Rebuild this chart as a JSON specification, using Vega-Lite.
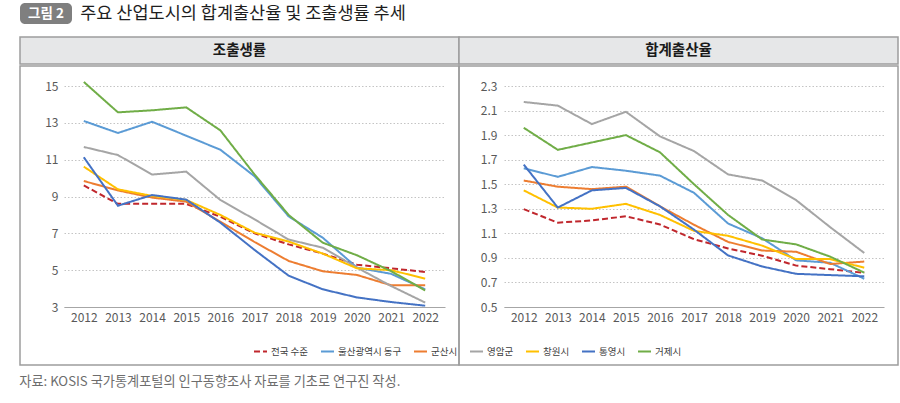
{
  "$schema": "https://vega.github.io/schema/vega-lite/v6.json",
  "padding": {"left": 19, "top": 3, "right": 2, "bottom": 4},
  "background": "white",
  "title": {"text": "자료: KOSIS 국가통계포털의 인구동향조사 자료를 기초로 연구진 작성.", "orient": "bottom", "anchor": "start", "fontSize": 13.2, "fontWeight": "normal", "color": "#6d6d6d", "font": "Noto Sans CJK KR", "offset": 10},
  "data": {"values": [
    {"panel":"조출생률","series":"전국 수준","year":2012,"value":9.6},{"panel":"조출생률","series":"전국 수준","year":2013,"value":8.6},{"panel":"조출생률","series":"전국 수준","year":2014,"value":8.6},{"panel":"조출생률","series":"전국 수준","year":2015,"value":8.6},{"panel":"조출생률","series":"전국 수준","year":2016,"value":7.9},{"panel":"조출생률","series":"전국 수준","year":2017,"value":7.0},{"panel":"조출생률","series":"전국 수준","year":2018,"value":6.4},{"panel":"조출생률","series":"전국 수준","year":2019,"value":5.9},{"panel":"조출생률","series":"전국 수준","year":2020,"value":5.3},{"panel":"조출생률","series":"전국 수준","year":2021,"value":5.1},{"panel":"조출생률","series":"전국 수준","year":2022,"value":4.9},
    {"panel":"조출생률","series":"울산광역시 동구","year":2012,"value":13.1},{"panel":"조출생률","series":"울산광역시 동구","year":2013,"value":12.45},{"panel":"조출생률","series":"울산광역시 동구","year":2014,"value":13.06},{"panel":"조출생률","series":"울산광역시 동구","year":2015,"value":12.3},{"panel":"조출생률","series":"울산광역시 동구","year":2016,"value":11.54},{"panel":"조출생률","series":"울산광역시 동구","year":2017,"value":10.1},{"panel":"조출생률","series":"울산광역시 동구","year":2018,"value":7.92},{"panel":"조출생률","series":"울산광역시 동구","year":2019,"value":6.76},{"panel":"조출생률","series":"울산광역시 동구","year":2020,"value":5.14},{"panel":"조출생률","series":"울산광역시 동구","year":2021,"value":4.8},{"panel":"조출생률","series":"울산광역시 동구","year":2022,"value":3.96},
    {"panel":"조출생률","series":"군산시","year":2012,"value":9.84},{"panel":"조출생률","series":"군산시","year":2013,"value":9.33},{"panel":"조출생률","series":"군산시","year":2014,"value":8.94},{"panel":"조출생률","series":"군산시","year":2015,"value":8.72},{"panel":"조출생률","series":"군산시","year":2016,"value":7.63},{"panel":"조출생률","series":"군산시","year":2017,"value":6.53},{"panel":"조출생률","series":"군산시","year":2018,"value":5.5},{"panel":"조출생률","series":"군산시","year":2019,"value":4.94},{"panel":"조출생률","series":"군산시","year":2020,"value":4.74},{"panel":"조출생률","series":"군산시","year":2021,"value":4.18},{"panel":"조출생률","series":"군산시","year":2022,"value":4.18},
    {"panel":"조출생률","series":"영암군","year":2012,"value":11.69},{"panel":"조출생률","series":"영암군","year":2013,"value":11.25},{"panel":"조출생률","series":"영암군","year":2014,"value":10.19},{"panel":"조출생률","series":"영암군","year":2015,"value":10.35},{"panel":"조출생률","series":"영암군","year":2016,"value":8.81},{"panel":"조출생률","series":"영암군","year":2017,"value":7.76},{"panel":"조출생률","series":"영암군","year":2018,"value":6.66},{"panel":"조출생률","series":"영암군","year":2019,"value":6.22},{"panel":"조출생률","series":"영암군","year":2020,"value":5.14},{"panel":"조출생률","series":"영암군","year":2021,"value":4.14},{"panel":"조출생률","series":"영암군","year":2022,"value":3.24},
    {"panel":"조출생률","series":"창원시","year":2012,"value":10.62},{"panel":"조출생률","series":"창원시","year":2013,"value":9.39},{"panel":"조출생률","series":"창원시","year":2014,"value":9.03},{"panel":"조출생률","series":"창원시","year":2015,"value":8.81},{"panel":"조출생률","series":"창원시","year":2016,"value":8.0},{"panel":"조출생률","series":"창원시","year":2017,"value":7.04},{"panel":"조출생률","series":"창원시","year":2018,"value":6.55},{"panel":"조출생률","series":"창원시","year":2019,"value":5.9},{"panel":"조출생률","series":"창원시","year":2020,"value":5.1},{"panel":"조출생률","series":"창원시","year":2021,"value":5.0},{"panel":"조출생률","series":"창원시","year":2022,"value":4.54},
    {"panel":"조출생률","series":"통영시","year":2012,"value":11.13},{"panel":"조출생률","series":"통영시","year":2013,"value":8.5},{"panel":"조출생률","series":"통영시","year":2014,"value":9.08},{"panel":"조출생률","series":"통영시","year":2015,"value":8.83},{"panel":"조출생률","series":"통영시","year":2016,"value":7.58},{"panel":"조출생률","series":"통영시","year":2017,"value":6.1},{"panel":"조출생률","series":"통영시","year":2018,"value":4.7},{"panel":"조출생률","series":"통영시","year":2019,"value":3.96},{"panel":"조출생률","series":"통영시","year":2020,"value":3.52},{"panel":"조출생률","series":"통영시","year":2021,"value":3.27},{"panel":"조출생률","series":"통영시","year":2022,"value":3.07},
    {"panel":"조출생률","series":"거제시","year":2012,"value":15.22},{"panel":"조출생률","series":"거제시","year":2013,"value":13.57},{"panel":"조출생률","series":"거제시","year":2014,"value":13.68},{"panel":"조출생률","series":"거제시","year":2015,"value":13.84},{"panel":"조출생률","series":"거제시","year":2016,"value":12.59},{"panel":"조출생률","series":"거제시","year":2017,"value":10.2},{"panel":"조출생률","series":"거제시","year":2018,"value":8.0},{"panel":"조출생률","series":"거제시","year":2019,"value":6.49},{"panel":"조출생률","series":"거제시","year":2020,"value":5.81},{"panel":"조출생률","series":"거제시","year":2021,"value":4.95},{"panel":"조출생률","series":"거제시","year":2022,"value":3.9},
    {"panel":"합계출산율","series":"전국 수준","year":2012,"value":1.297},{"panel":"합계출산율","series":"전국 수준","year":2013,"value":1.187},{"panel":"합계출산율","series":"전국 수준","year":2014,"value":1.205},{"panel":"합계출산율","series":"전국 수준","year":2015,"value":1.239},{"panel":"합계출산율","series":"전국 수준","year":2016,"value":1.172},{"panel":"합계출산율","series":"전국 수준","year":2017,"value":1.052},{"panel":"합계출산율","series":"전국 수준","year":2018,"value":0.977},{"panel":"합계출산율","series":"전국 수준","year":2019,"value":0.918},{"panel":"합계출산율","series":"전국 수준","year":2020,"value":0.837},{"panel":"합계출산율","series":"전국 수준","year":2021,"value":0.808},{"panel":"합계출산율","series":"전국 수준","year":2022,"value":0.778},
    {"panel":"합계출산율","series":"울산광역시 동구","year":2012,"value":1.63},{"panel":"합계출산율","series":"울산광역시 동구","year":2013,"value":1.56},{"panel":"합계출산율","series":"울산광역시 동구","year":2014,"value":1.64},{"panel":"합계출산율","series":"울산광역시 동구","year":2015,"value":1.61},{"panel":"합계출산율","series":"울산광역시 동구","year":2016,"value":1.57},{"panel":"합계출산율","series":"울산광역시 동구","year":2017,"value":1.43},{"panel":"합계출산율","series":"울산광역시 동구","year":2018,"value":1.18},{"panel":"합계출산율","series":"울산광역시 동구","year":2019,"value":1.06},{"panel":"합계출산율","series":"울산광역시 동구","year":2020,"value":0.88},{"panel":"합계출산율","series":"울산광역시 동구","year":2021,"value":0.86},{"panel":"합계출산율","series":"울산광역시 동구","year":2022,"value":0.73},
    {"panel":"합계출산율","series":"군산시","year":2012,"value":1.53},{"panel":"합계출산율","series":"군산시","year":2013,"value":1.48},{"panel":"합계출산율","series":"군산시","year":2014,"value":1.46},{"panel":"합계출산율","series":"군산시","year":2015,"value":1.48},{"panel":"합계출산율","series":"군산시","year":2016,"value":1.32},{"panel":"합계출산율","series":"군산시","year":2017,"value":1.17},{"panel":"합계출산율","series":"군산시","year":2018,"value":1.03},{"panel":"합계출산율","series":"군산시","year":2019,"value":0.96},{"panel":"합계출산율","series":"군산시","year":2020,"value":0.95},{"panel":"합계출산율","series":"군산시","year":2021,"value":0.85},{"panel":"합계출산율","series":"군산시","year":2022,"value":0.87},
    {"panel":"합계출산율","series":"영암군","year":2012,"value":2.17},{"panel":"합계출산율","series":"영암군","year":2013,"value":2.14},{"panel":"합계출산율","series":"영암군","year":2014,"value":1.99},{"panel":"합계출산율","series":"영암군","year":2015,"value":2.09},{"panel":"합계출산율","series":"영암군","year":2016,"value":1.89},{"panel":"합계출산율","series":"영암군","year":2017,"value":1.77},{"panel":"합계출산율","series":"영암군","year":2018,"value":1.58},{"panel":"합계출산율","series":"영암군","year":2019,"value":1.53},{"panel":"합계출산율","series":"영암군","year":2020,"value":1.37},{"panel":"합계출산율","series":"영암군","year":2021,"value":1.15},{"panel":"합계출산율","series":"영암군","year":2022,"value":0.94},
    {"panel":"합계출산율","series":"창원시","year":2012,"value":1.45},{"panel":"합계출산율","series":"창원시","year":2013,"value":1.31},{"panel":"합계출산율","series":"창원시","year":2014,"value":1.3},{"panel":"합계출산율","series":"창원시","year":2015,"value":1.34},{"panel":"합계출산율","series":"창원시","year":2016,"value":1.25},{"panel":"합계출산율","series":"창원시","year":2017,"value":1.12},{"panel":"합계출산율","series":"창원시","year":2018,"value":1.08},{"panel":"합계출산율","series":"창원시","year":2019,"value":1.0},{"panel":"합계출산율","series":"창원시","year":2020,"value":0.89},{"panel":"합계출산율","series":"창원시","year":2021,"value":0.89},{"panel":"합계출산율","series":"창원시","year":2022,"value":0.82},
    {"panel":"합계출산율","series":"통영시","year":2012,"value":1.66},{"panel":"합계출산율","series":"통영시","year":2013,"value":1.31},{"panel":"합계출산율","series":"통영시","year":2014,"value":1.45},{"panel":"합계출산율","series":"통영시","year":2015,"value":1.47},{"panel":"합계출산율","series":"통영시","year":2016,"value":1.32},{"panel":"합계출산율","series":"통영시","year":2017,"value":1.13},{"panel":"합계출산율","series":"통영시","year":2018,"value":0.92},{"panel":"합계출산율","series":"통영시","year":2019,"value":0.83},{"panel":"합계출산율","series":"통영시","year":2020,"value":0.77},{"panel":"합계출산율","series":"통영시","year":2021,"value":0.76},{"panel":"합계출산율","series":"통영시","year":2022,"value":0.75},
    {"panel":"합계출산율","series":"거제시","year":2012,"value":1.96},{"panel":"합계출산율","series":"거제시","year":2013,"value":1.78},{"panel":"합계출산율","series":"거제시","year":2014,"value":1.84},{"panel":"합계출산율","series":"거제시","year":2015,"value":1.9},{"panel":"합계출산율","series":"거제시","year":2016,"value":1.76},{"panel":"합계출산율","series":"거제시","year":2017,"value":1.5},{"panel":"합계출산율","series":"거제시","year":2018,"value":1.25},{"panel":"합계출산율","series":"거제시","year":2019,"value":1.05},{"panel":"합계출산율","series":"거제시","year":2020,"value":1.01},{"panel":"합계출산율","series":"거제시","year":2021,"value":0.91},{"panel":"합계출산율","series":"거제시","year":2022,"value":0.78}
  ]},
  "spacing": 12,
  "vconcat": [
    {
      "bounds": "flush",
      "spacing": 6,
      "hconcat": [
        {
          "width": 52, "height": 21,
          "view": {"fill": "#7f7f7f", "stroke": null, "cornerRadius": 5},
          "data": {"values": [{"label": "그림 2"}]},
          "mark": {"type": "text", "color": "white", "fontWeight": "bold", "fontSize": 13.5, "font": "Noto Sans CJK KR"},
          "encoding": {"text": {"field": "label"}}
        },
        {
          "width": 330, "height": 21,
          "view": {"stroke": null},
          "data": {"values": [{"label": "주요 산업도시의 합계출산율 및 조출생률 추세"}]},
          "mark": {"type": "text", "color": "#1e1e1e", "fontSize": 17.5, "font": "Noto Sans CJK KR"},
          "encoding": {"text": {"field": "label"}}
        }
      ]
    },
    {
      "spacing": 0,
      "vconcat": [
        {
          "bounds": "flush",
          "spacing": 0,
          "hconcat": [
            {
              "width": 439, "height": 27,
              "view": {"fill": "#e6e7e8", "stroke": "#9d9d9d", "strokeWidth": 1.5},
              "data": {"values": [{"label": "조출생률"}]},
              "mark": {"type": "text", "color": "#1a1a1a", "fontWeight": "bold", "fontSize": 14.5, "font": "Noto Sans CJK KR"},
              "encoding": {"text": {"field": "label"}}
            },
            {
              "width": 439, "height": 27,
              "view": {"fill": "#e6e7e8", "stroke": "#9d9d9d", "strokeWidth": 1.5},
              "data": {"values": [{"label": "합계출산율"}]},
              "mark": {"type": "text", "color": "#1a1a1a", "fontWeight": "bold", "fontSize": 14.5, "font": "Noto Sans CJK KR"},
              "encoding": {"text": {"field": "label"}}
            }
          ]
        },
        {
          "bounds": "flush",
          "spacing": 0,
          "resolve": {"scale": {"x": "independent", "y": "independent", "color": "shared", "strokeDash": "shared"}},
          "hconcat": [
            {
              "width": 439, "height": 299,
              "view": {"stroke": "#9d9d9d", "strokeWidth": 1.5},
              "transform": [{"filter": "datum.panel === '조출생률'"}],
              "mark": {"type": "line", "strokeWidth": 2},
              "encoding": {
                "x": {"field": "year", "type": "ordinal", "scale": {"type": "point", "padding": 0.58, "range": [44, 425]}, "axis": {"offset": -58, "labelAngle": 0, "labelPadding": 5, "grid": false, "domain": true}},
                "y": {"field": "value", "type": "quantitative", "scale": {"domain": [3, 15], "nice": false, "zero": false, "range": [241, 20]}, "axis": {"offset": -44, "values": [3, 5, 7, 9, 11, 13, 15], "domain": false, "grid": true, "labelPadding": 6}},
                "color": {"field": "series", "type": "nominal", "scale": {"domain": ["전국 수준", "울산광역시 동구", "군산시", "영암군", "창원시", "통영시", "거제시"], "range": ["#C0272D", "#5B9BD5", "#ED7D31", "#A5A5A5", "#FFC000", "#4472C4", "#70AD47"]}, "legend": {"title": null}},
                "strokeDash": {"field": "series", "type": "nominal", "scale": {"domain": ["전국 수준", "울산광역시 동구", "군산시", "영암군", "창원시", "통영시", "거제시"], "range": [[6, 3], [1, 0], [1, 0], [1, 0], [1, 0], [1, 0], [1, 0]]}, "legend": {"title": null}}
              }
            },
            {
              "width": 439, "height": 299,
              "view": {"stroke": "#9d9d9d", "strokeWidth": 1.5},
              "transform": [{"filter": "datum.panel === '합계출산율'"}],
              "mark": {"type": "line", "strokeWidth": 2},
              "encoding": {
                "x": {"field": "year", "type": "ordinal", "scale": {"type": "point", "padding": 0.58, "range": [45, 425]}, "axis": {"offset": -58, "labelAngle": 0, "labelPadding": 5, "grid": false, "domain": true}},
                "y": {"field": "value", "type": "quantitative", "scale": {"domain": [0.5, 2.3], "nice": false, "zero": false, "range": [241, 20]}, "axis": {"offset": -45, "values": [0.5, 0.7, 0.9, 1.1, 1.3, 1.5, 1.7, 1.9, 2.1, 2.3], "format": ".1f", "domain": false, "grid": true, "labelPadding": 7}},
                "color": {"field": "series", "type": "nominal", "scale": {"domain": ["전국 수준", "울산광역시 동구", "군산시", "영암군", "창원시", "통영시", "거제시"], "range": ["#C0272D", "#5B9BD5", "#ED7D31", "#A5A5A5", "#FFC000", "#4472C4", "#70AD47"]}, "legend": {"title": null}},
                "strokeDash": {"field": "series", "type": "nominal", "scale": {"domain": ["전국 수준", "울산광역시 동구", "군산시", "영암군", "창원시", "통영시", "거제시"], "range": [[6, 3], [1, 0], [1, 0], [1, 0], [1, 0], [1, 0], [1, 0]]}, "legend": {"title": null}}
              }
            }
          ]
        }
      ]
    }
  ],
  "config": {
    "font": "Noto Sans CJK KR",
    "axis": {"labelFont": "Noto Sans CJK KR", "labelFontSize": 12, "labelColor": "#595959", "ticks": false, "title": null, "domainColor": "#a6a6a6", "domainWidth": 1.2, "gridColor": "#c4c4c4", "gridDash": [1.5, 2], "gridWidth": 1},
    "legend": {"orient": "none", "legendX": 233, "legendY": 341, "direction": "horizontal", "columns": 7, "symbolType": "stroke", "symbolSize": 169, "symbolStrokeWidth": 2, "labelFont": "Noto Sans CJK KR", "labelFontSize": 9.5, "labelColor": "#404040", "columnPadding": 8, "labelOffset": 3}
  }
}
